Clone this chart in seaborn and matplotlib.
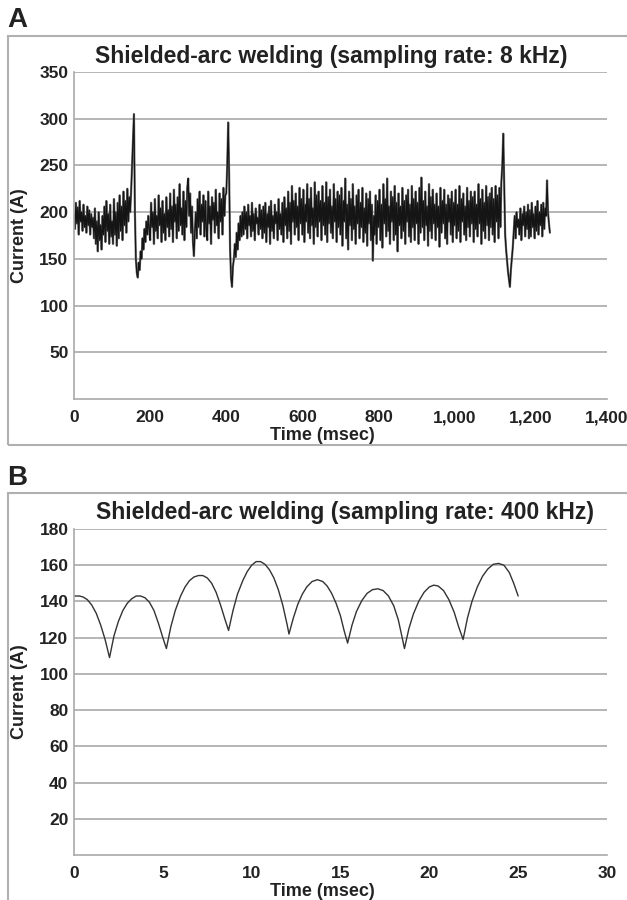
import numpy as np
import pandas as pd
import seaborn as sns
import matplotlib.pyplot as plt
from matplotlib.patches import Rectangle
from matplotlib.ticker import FuncFormatter

# panel A: 8 kHz record, values every 2.5 ms
time_a_step = 2.5
current_a = [
    198, 182, 210, 188, 205, 176, 212, 190, 200, 180, 208, 184, 196, 178, 206, 186, 202, 176, 198, 184,
    194, 172, 204, 166, 190, 158, 200, 170, 186, 160, 196, 176, 206, 168, 212, 180, 198, 166, 208, 174,
    190, 166, 214, 176, 200, 164, 210, 172, 218, 180, 206, 170, 222, 186, 212, 178, 225, 190, 216, 200,
    222, 250, 280, 305, 200, 150, 135, 130, 146, 138, 158, 150, 172, 160, 182, 168, 190, 176, 196, 182,
    170, 210, 184, 200, 166, 214, 180, 196, 172, 218, 186, 204, 168, 212, 178, 198, 170, 216, 184, 202,
    174, 220, 182, 206, 168, 224, 190, 208, 172, 216, 180, 230, 186, 204, 176, 222, 170, 212, 184, 226,
    236, 196, 220, 178, 206, 168, 153, 180, 200, 172, 214, 184, 222, 176, 208, 190, 218, 174, 212, 182,
    170, 222, 188, 206, 166, 216, 192, 210, 178, 224, 186, 200, 172, 220, 190, 214, 176, 226, 196, 218,
    220, 250, 296, 240, 160, 130, 120, 142, 150, 166, 152, 178, 160, 188, 170, 196, 174, 200, 176, 206,
    182, 200, 172, 208, 186, 196, 174, 210, 180, 198, 170, 204, 188, 194, 176, 208, 182, 202, 172, 206,
    178, 210, 168, 198, 184, 206, 166, 212, 180, 196, 172, 208, 188, 200, 170, 214, 182, 198, 176, 210,
    168, 216, 186, 204, 172, 222, 180, 210, 166, 228, 190, 212, 176, 220, 184, 206, 170, 226, 188, 214,
    176, 224, 168, 208, 190, 230, 178, 214, 172, 226, 186, 204, 166, 232, 184, 218, 174, 222, 190, 212,
    170, 228, 186, 210, 176, 232, 168, 216, 188, 224, 178, 206, 172, 230, 190, 214, 168, 222, 184, 218,
    176, 226, 164, 212, 190, 236, 172, 208, 160, 222, 186, 214, 170, 230, 182, 206, 166, 218, 188, 224,
    172, 210, 184, 226, 168, 204, 178, 220, 164, 214, 188, 222, 170, 208, 148, 196, 176, 218, 166, 212,
    184, 224, 170, 208, 162, 230, 188, 214, 174, 236, 180, 206, 166, 222, 190, 216, 170, 228, 176, 210,
    158, 220, 186, 206, 172, 226, 180, 212, 166, 218, 190, 224, 174, 208, 168, 228, 184, 214, 170, 222,
    188, 210, 166, 226, 178, 237, 184, 212, 170, 222, 186, 206, 164, 230, 180, 216, 172, 224, 188, 208,
    170, 220, 184, 206, 163, 226, 178, 212, 188, 224, 172, 208, 166, 218, 190, 214, 176, 222, 168, 210,
    186, 224, 172, 208, 180, 228, 168, 214, 190, 220, 176, 206, 170, 226, 184, 212, 174, 222, 188, 216,
    168, 222, 182, 208, 174, 230, 188, 214, 166, 224, 180, 210, 172, 228, 186, 216, 170, 220, 184, 226,
    176, 214, 168, 228, 190, 218, 172, 226, 184, 232, 250, 284, 230, 176, 160, 148, 136, 128, 120, 138,
    150, 162, 180, 196, 172, 200, 184, 192, 176, 204, 170, 198, 186, 206, 174, 200, 182, 208, 172, 202,
    174, 210, 184, 198, 172, 206, 180, 212, 176, 200, 186, 208, 174, 210, 182, 204, 196, 234, 200, 188,
    178,
]
time_a = [i * time_a_step for i in range(len(current_a))]

# panel B: 400 kHz record, points read along the arcs
time_b = [0, 0.3, 0.5, 0.75, 1.0, 1.25, 1.5, 1.75, 2.0,
          2.25, 2.5, 2.75, 3.0, 3.25, 3.5, 3.75, 4.0, 4.25, 4.5, 4.75, 5.0, 5.2,
          5.45, 5.7, 6.0, 6.25, 6.5, 6.75, 7.0, 7.25, 7.5, 7.75, 8.0, 8.25, 8.5, 8.7,
          8.95, 9.2, 9.5, 9.75, 10.0, 10.25, 10.5, 10.75, 11.0, 11.25, 11.5, 11.75, 12.0, 12.1,
          12.35, 12.6, 12.85, 13.1, 13.4, 13.7, 14.0, 14.25, 14.5, 14.75, 15.0, 15.2, 15.4,
          15.65, 15.9, 16.2, 16.5, 16.8, 17.1, 17.4, 17.7, 18.0, 18.25, 18.45, 18.6,
          18.85, 19.1, 19.4, 19.7, 20.0, 20.25, 20.5, 20.8, 21.1, 21.4, 21.65, 21.9,
          22.15, 22.4, 22.7, 23.0, 23.3, 23.6, 23.9, 24.2, 24.5, 24.75, 25.0]
current_b = [143, 143, 142.5, 141, 138, 133.5, 127, 119, 109,
             121, 129, 135, 139, 141.5, 143, 143, 142, 139.5, 135, 128, 120, 114,
             126, 135, 143, 148, 151.5, 153.5, 154.3, 154.3, 153, 150, 145, 138, 130, 124,
             135, 144, 151.5, 156.5, 160, 162, 162, 160.5, 157.5, 153, 146.5, 138, 127, 122,
             131, 138.5, 144, 148, 151, 152, 151, 148.5, 144.5, 139, 132, 124, 117,
             127, 134.5, 140.5, 144.5, 146.5, 147, 146, 143, 137.5, 130, 121, 114,
             125, 133, 140, 145, 148, 149, 148.5, 146, 141, 134, 126, 119,
             131, 140, 148, 154, 158, 160.5, 161, 160, 156, 150, 143]

titles = ["Shielded-arc welding (sampling rate: 8 kHz)",
          "Shielded-arc welding (sampling rate: 400 kHz)"]

sns.set_style("white")
plt.rcParams['font.family'] = ['Liberation Sans', 'DejaVu Sans']
plt.rcParams['font.weight'] = 'bold'

fig = plt.figure(figsize=(6.27, 9.0), dpi=100)
W, H = 627, 900


def px_axes(x0, y0, x1, y1):
    return fig.add_axes([x0 / W, 1 - y1 / H, (x1 - x0) / W, (y1 - y0) / H])


grid_c = '#a9a9a9'
text_c = '#222222'

# outer frames of the two panels
for top, bottom in [(36, 445), (493, 905)]:
    fig.patches.append(Rectangle((8 / W, 1 - bottom / H), 1.0, (bottom - top) / H,
                                 transform=fig.transFigure, fill=False,
                                 edgecolor='#b0b0b0', lw=1.5))

ax_a = px_axes(74, 72, 607, 399)
ax_b = px_axes(74, 529, 607, 855)

df_a = pd.DataFrame({'time': time_a, 'current': current_a})
df_b = pd.DataFrame({'time': time_b, 'current': current_b})

sns.lineplot(data=df_a, x='time', y='current', ax=ax_a, color='#7a7a7a', lw=1.6)
sns.lineplot(data=df_a, x='time', y='current', ax=ax_a, color='#151515', lw=0.9)
sns.lineplot(data=df_b, x='time', y='current', ax=ax_b, color='#333333', lw=1.0)

ax_a.set_xlim(0, 1400)
ax_a.set_ylim(0, 350)
ax_a.set_xticks(range(0, 1401, 200))
ax_a.set_yticks(range(50, 351, 50))
ax_a.xaxis.set_major_formatter(FuncFormatter(lambda v, p: f"{int(v):,}"))

ax_b.set_xlim(0, 30)
ax_b.set_ylim(0, 180)
ax_b.set_xticks(range(0, 31, 5))
ax_b.set_yticks(range(20, 181, 20))

for ax in (ax_a, ax_b):
    ax.grid(axis='y', color=grid_c, lw=1.2)
    ax.set_axisbelow(True)
    for s in ['top', 'right']:
        ax.spines[s].set_visible(False)
    for s in ['left', 'bottom']:
        ax.spines[s].set_color(grid_c)
        ax.spines[s].set_linewidth(1.2)
    ax.tick_params(axis='x', length=4, color=grid_c, pad=4, labelsize=12.5, labelcolor=text_c)
    ax.tick_params(axis='y', length=0, pad=4, labelsize=12.5, labelcolor=text_c)
    for lab in ax.get_xticklabels() + ax.get_yticklabels():
        lab.set_fontweight('bold')
    ax.set_xlabel("Time (msec)", fontsize=13, fontweight='bold', color=text_c)
    ax.set_ylabel("Current (A)", fontsize=13, fontweight='bold', color=text_c)
    ax.xaxis.set_label_coords((322 - 74) / 533, -0.085)
    ax.yaxis.set_label_coords(-(74 - 28) / 533, 0.5)

fig.text(331 / W, 1 - 56 / H, titles[0], ha='center', va='center',
         fontsize=16.5, fontweight='bold', color=text_c)
fig.text(345 / W, 1 - 512 / H, titles[1], ha='center', va='center',
         fontsize=16.5, fontweight='bold', color=text_c)

fig.text(7 / W, 1 - 20 / H, "A", ha='left', va='center', fontsize=20, fontweight='bold', color=text_c)
fig.text(7 / W, 1 - 478 / H, "B", ha='left', va='center', fontsize=20, fontweight='bold', color=text_c)

fig.savefig("out.png", dpi=100)
